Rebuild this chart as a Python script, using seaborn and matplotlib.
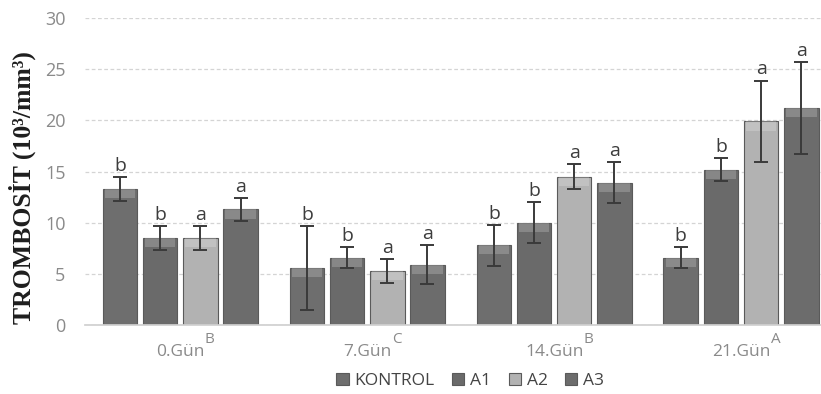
import numpy as np
import pandas as pd
import matplotlib
matplotlib.use("Agg")
import matplotlib.pyplot as plt
import seaborn as sns

# Platelet counts (10^3/mm^3) per sampling day and group
days = ["0.Gün", "7.Gün", "14.Gün", "21.Gün"]
day_letters = ["B", "C", "B", "A"]
groups = ["KONTROL", "A1", "A2", "A3"]

kontrol = [13.3, 5.6, 7.8, 6.6]
a1 = [8.5, 6.6, 10.0, 15.2]
a2 = [8.5, 5.3, 14.5, 19.9]
a3 = [11.3, 5.9, 13.9, 21.2]

kontrol_sd = [1.2, 4.1, 2.0, 1.0]
a1_sd = [1.2, 1.0, 2.0, 1.1]
a2_sd = [1.2, 1.2, 1.2, 4.0]
a3_sd = [1.1, 1.9, 2.0, 4.5]

kontrol_sig = ["b", "b", "b", "b"]
a1_sig = ["b", "b", "b", "b"]
a2_sig = ["a", "a", "a", "a"]
a3_sig = ["a", "a", "a", "a"]

means = [kontrol, a1, a2, a3]
sds = [kontrol_sd, a1_sd, a2_sd, a3_sd]
sigs = [kontrol_sig, a1_sig, a2_sig, a3_sig]

df = pd.DataFrame({
    "day": np.tile(days, len(groups)),
    "group": np.repeat(groups, len(days)),
    "value": np.concatenate(means),
})

palette = {"KONTROL": "#6e6e6e", "A1": "#6a6a6a", "A2": "#b2b2b2", "A3": "#6c6c6c"}

sns.set_theme(style="white")
plt.rcParams["font.family"] = ["Open Sans", "DejaVu Sans"]

fig = plt.figure(figsize=(8.21, 3.94), dpi=100)
ax = fig.add_axes([0.1035, 0.175, 0.897, 0.779])

sns.barplot(data=df, x="day", y="value", hue="group", order=days,
            hue_order=groups, palette=palette, width=0.86, gap=0.14,
            errorbar=None, saturation=1, edgecolor="#5a5a5a", linewidth=0.8,
            legend=True, ax=ax)

bar_containers = list(ax.containers)

# error bars and significance letters over each bar
for gi, container in enumerate(bar_containers):
    for di, patch in enumerate(container.patches):
        xc = patch.get_x() + patch.get_width() / 2
        m = means[gi][di]
        s = sds[gi][di]
        # lighter cap at the top of each bar
        ax.add_patch(plt.Rectangle((patch.get_x() + patch.get_width() * 0.06, m - 0.9),
                                   patch.get_width() * 0.88, 0.9,
                                   facecolor="white", alpha=0.2, linewidth=0, zorder=3))
        ax.errorbar(xc, m, yerr=s, fmt="none", ecolor="#3a3a3a", elinewidth=1.4,
                    capsize=5, capthick=1.4, zorder=4)
        ax.text(xc, m + s + 0.2, sigs[gi][di], ha="center", va="bottom",
                fontsize=14, color="#3c3c3c", zorder=5)

ax.set_ylim(0, 30)
ax.set_yticks(range(0, 31, 5))
ax.set_xlim(-0.51, 3.43)
ax.yaxis.grid(True, linestyle=(0, (3, 2)), color="#d4d4d4", linewidth=0.9)
ax.set_axisbelow(True)
for side in ["top", "right", "left"]:
    ax.spines[side].set_visible(False)
ax.spines["bottom"].set_color("#d0d0d0")
ax.tick_params(axis="y", length=0, labelsize=13, labelcolor="#8a8a8a", pad=14)
ax.tick_params(axis="x", length=0, labelsize=12.5, labelcolor="#8a8a8a", pad=14)
ax.set_xticks(range(len(days)))
ax.set_xticklabels(days)
ax.set_xlabel("")
ax.set_ylabel("")

# day-level significance letters as superscripts after each tick label
fig.canvas.draw()
renderer = fig.canvas.get_renderer()
inv = fig.transFigure.inverted()
for lbl, letter in zip(ax.get_xticklabels(), day_letters):
    bb = lbl.get_window_extent(renderer)
    x1, y1 = inv.transform((bb.x1, bb.y1))
    fig.text(x1 + 0.0005, y1 - 0.006, letter, ha="left", va="bottom",
             fontsize=11, color="#8a8a8a")

fig.text(0.027, 0.525, "TROMBOSİT (10³/mm³)", rotation=90,
         ha="center", va="center", fontsize=18.5, fontweight="bold",
         family=["Liberation Serif", "DejaVu Serif"], color="#1e1e1e")

handles, labels = ax.get_legend_handles_labels()
ax.legend_.remove()
fig.legend(handles, labels, loc="center", bbox_to_anchor=(0.573, 0.033), ncol=4,
           frameon=False, fontsize=12.5, handlelength=0.7, handleheight=0.7,
           handletextpad=0.35, columnspacing=1.0, labelcolor="#444444")

fig.savefig("out.png", dpi=100)
